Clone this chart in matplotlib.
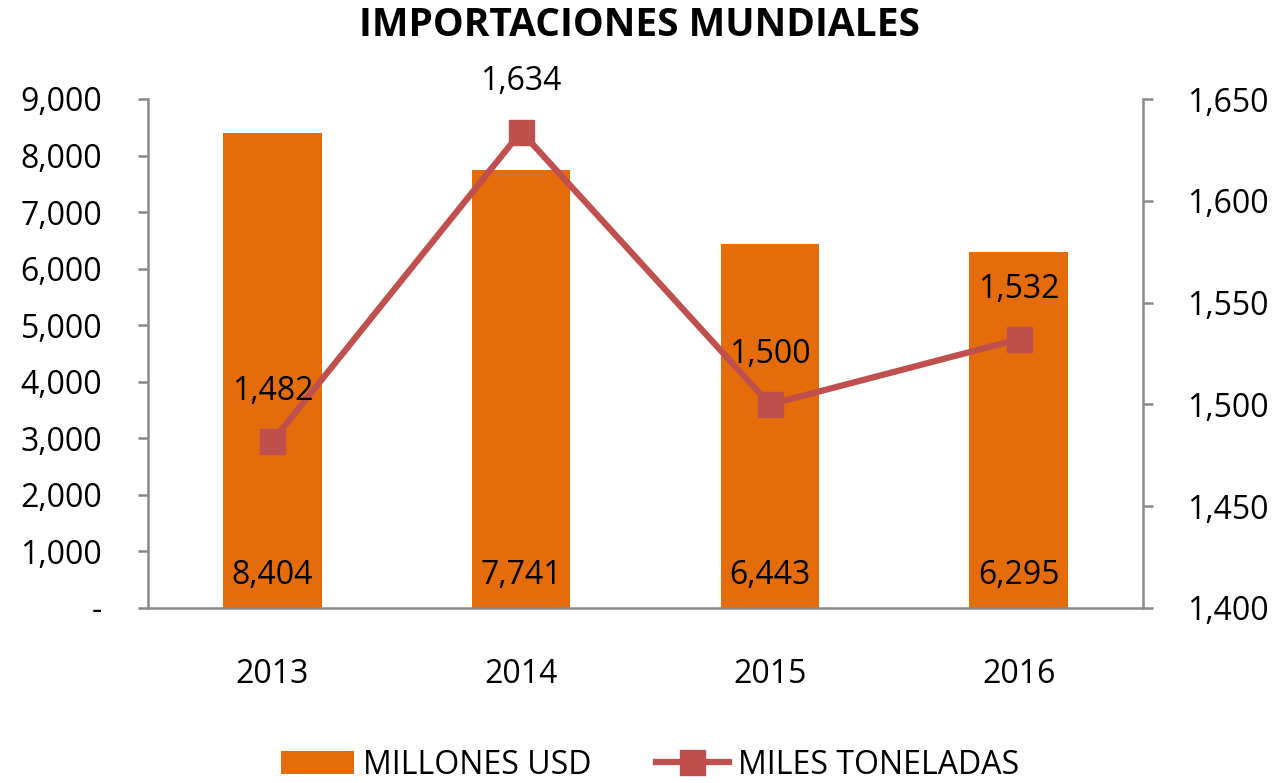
import matplotlib
matplotlib.use("Agg")
import matplotlib.pyplot as plt
from matplotlib.ticker import FuncFormatter

years = ["2013", "2014", "2015", "2016"]
millones_usd = [8404, 7741, 6443, 6295]
miles_toneladas = [1482, 1634, 1500, 1532]
left_ticks = [0, 1000, 2000, 3000, 4000, 5000, 6000, 7000, 8000, 9000]
right_ticks = [1400, 1450, 1500, 1550, 1600, 1650]

plt.rcParams['font.family'] = ['Open Sans', 'DejaVu Sans']

BAR_C = "#E46C0A"
LINE_C = "#C0504D"
SPINE_C = "#898989"
FS = 23

fig = plt.figure(figsize=(12.79, 7.83), dpi=100)
ax = fig.add_axes([148/1279, 1-608/783, (1143-148)/1279, (608-99)/783])
ax2 = ax.twinx()

x = list(range(len(years)))
bars = ax.bar(x, millones_usd, width=0.395, color=BAR_C, zorder=2, label="MILLONES USD")
ax.set_xlim(-0.5, 3.5)
ax.set_ylim(0, 9000)
ax.set_yticks(left_ticks)
ax.yaxis.set_major_formatter(FuncFormatter(lambda v, p: "-" if v == 0 else f"{int(v):,}"))
ax.set_xticks(x)
ax.set_xticklabels(years)

for xi, v in zip(x, millones_usd):
    ax.text(xi, 573, f"{v:,}", ha="center", va="center", fontsize=FS, color="black", zorder=5)

line, = ax2.plot(x, miles_toneladas, color=LINE_C, lw=4.5, marker="s", markersize=18,
                 markerfacecolor=LINE_C, markeredgecolor=LINE_C, label="MILES TONELADAS", zorder=3)
ax2.set_ylim(1400, 1650)
ax2.set_yticks(right_ticks)
ax2.yaxis.set_major_formatter(FuncFormatter(lambda v, p: f"{int(v):,}"))
for xi, v in zip(x, miles_toneladas):
    ax2.annotate(f"{v:,}", (xi, v), xytext=(0, 36), textcoords="offset points",
                 ha="center", va="center", fontsize=FS, color="black")

for a in (ax, ax2):
    for s in a.spines.values():
        s.set_visible(False)
ax.spines['left'].set_visible(True)
ax.spines['bottom'].set_visible(True)
ax2.spines['right'].set_visible(True)
for s in (ax.spines['left'], ax.spines['bottom'], ax2.spines['right']):
    s.set_color(SPINE_C)
    s.set_linewidth(1.8)

ax.tick_params(axis='y', direction='out', length=7, width=1.8, color=SPINE_C, labelsize=FS, pad=26)
ax.tick_params(axis='x', length=0, labelsize=FS, pad=36)
ax2.tick_params(axis='y', direction='out', length=7, width=1.8, color=SPINE_C, labelsize=FS, pad=25)

fig.text(0.5, 1-25/783, "IMPORTACIONES MUNDIALES", ha="center", va="center",
         fontsize=28, fontweight="bold")

fig.legend([bars, line], ["MILLONES USD", "MILES TONELADAS"], loc="center",
           bbox_to_anchor=(650/1279, 1-765/783), ncol=2, frameon=False, fontsize=FS,
           handlelength=2.3, handleheight=0.7, columnspacing=2.0, handletextpad=0.28)

fig.savefig("out.png", dpi=100)
